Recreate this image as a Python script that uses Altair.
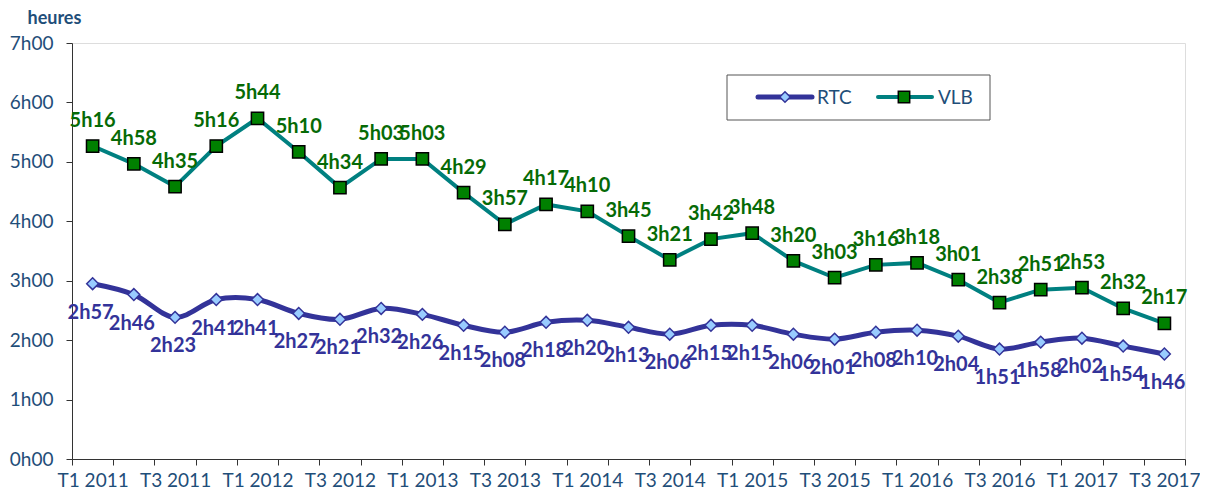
import altair as alt
import pandas as pd

# ---------------- data ----------------
quarters = [
    "T1 2011", "T2 2011", "T3 2011", "T4 2011",
    "T1 2012", "T2 2012", "T3 2012", "T4 2012",
    "T1 2013", "T2 2013", "T3 2013", "T4 2013",
    "T1 2014", "T2 2014", "T3 2014", "T4 2014",
    "T1 2015", "T2 2015", "T3 2015", "T4 2015",
    "T1 2016", "T2 2016", "T3 2016", "T4 2016",
    "T1 2017", "T2 2017", "T3 2017",
]
rtc_labels = [
    "2h57", "2h46", "2h23", "2h41", "2h41", "2h27", "2h21", "2h32", "2h26",
    "2h15", "2h08", "2h18", "2h20", "2h13", "2h06", "2h15", "2h15", "2h06",
    "2h01", "2h08", "2h10", "2h04", "1h51", "1h58", "2h02", "1h54", "1h46",
]
vlb_labels = [
    "5h16", "4h58", "4h35", "5h16", "5h44", "5h10", "4h34", "5h03", "5h03",
    "4h29", "3h57", "4h17", "4h10", "3h45", "3h21", "3h42", "3h48", "3h20",
    "3h03", "3h16", "3h18", "3h01", "2h38", "2h51", "2h53", "2h32", "2h17",
]
series_names = ["RTC", "VLB"]
y_ticks = [0, 1, 2, 3, 4, 5, 6, 7]


def to_hours(s):
    h, m = s.split("h")
    return int(h) + int(m) / 60.0


rows = []
for name, labs in zip(series_names, [rtc_labels, vlb_labels]):
    for q, lab in zip(quarters, labs):
        rows.append({"trimestre": q, "serie": name, "heures": to_hours(lab), "label": lab})
df = pd.DataFrame(rows)

# ---------------- style ----------------
FONT = "Lato"
AXIS_COLOR = "#1F4E79"
RTC_LINE = "#333399"
RTC_FILL = "#99CCFF"
VLB_LINE = "#008080"
VLB_FILL = "#008000"
VLB_TEXT = "#066A06"
W, H = 1113, 416

x_enc = alt.X(
    "trimestre:N",
    sort=quarters,
    bandPosition=0.5,
    scale=alt.Scale(type="band", paddingInner=0, paddingOuter=0),
    axis=alt.Axis(
        title=None,
        tickBand="extent",
        labelAngle=0,
        labelOverlap=False,
        labelExpr="(substring(datum.label,0,2)=='T1' || substring(datum.label,0,2)=='T3') ? datum.label : ''",
        labelFont=FONT,
        labelFontSize=19,
        labelColor=AXIS_COLOR,
        labelPadding=6,
        tickSize=6,
        tickColor="#333",
        domainColor="#333",
        grid=False,
    ),
)
y_enc = alt.Y(
    "heures:Q",
    scale=alt.Scale(domain=[0, 7], nice=False, zero=True),
    axis=alt.Axis(
        values=y_ticks,
        labelExpr="datum.value + 'h00'",
        labelFont=FONT,
        labelFontSize=19,
        labelColor=AXIS_COLOR,
        labelPadding=13,
        tickSize=6,
        tickColor="#333",
        domainColor="#333",
        grid=False,
        title="heures",
        titleAngle=0,
        titleAlign="left",
        titleBaseline="alphabetic",
        titleX=-45,
        titleY=-20,
        titleFont=FONT,
        titleFontSize=18,
        titleFontWeight="bold",
        titleColor=AXIS_COLOR,
    ),
)

base = alt.Chart(df).encode(x=x_enc, y=y_enc)
rtc = base.transform_filter(alt.datum.serie == "RTC")
vlb = base.transform_filter(alt.datum.serie == "VLB")

vlb_line = vlb.mark_line(color=VLB_LINE, strokeWidth=4)
vlb_pts = vlb.mark_point(shape="square", filled=True, fill=VLB_FILL, stroke="#000000",
                         strokeWidth=1.5, size=150, opacity=1)
vlb_txt = vlb.mark_text(dy=-25, font=FONT, fontSize=20, fontWeight="bold",
                        color=VLB_TEXT).encode(text="label:N")

rtc_line = rtc.mark_line(color=RTC_LINE, strokeWidth=5, interpolate="cardinal")
rtc_pts = rtc.mark_point(shape="diamond", filled=True, fill=RTC_FILL, stroke=RTC_LINE,
                         strokeWidth=1.5, size=140, opacity=1)
rtc_txt = rtc.mark_text(dy=29, dx=-2, font=FONT, fontSize=20, fontWeight="bold",
                        color=RTC_LINE).encode(text="label:N")

# ---------------- legend (drawn manually) ----------------
one = pd.DataFrame({"k": [0]})
leg = alt.Chart(one)
leg_box = leg.mark_rect(fill="white", stroke="#555555", strokeWidth=1).encode(
    x=alt.value(655), x2=alt.value(918), y=alt.value(32), y2=alt.value(77))
leg_rtc_line = leg.mark_rule(color=RTC_LINE, strokeWidth=5, strokeCap="round").encode(
    x=alt.value(686), x2=alt.value(740), y=alt.value(54))
leg_rtc_pt = leg.mark_point(shape="diamond", filled=True, fill=RTC_FILL, stroke=RTC_LINE,
                            strokeWidth=1.5, size=110, opacity=1).encode(
    x=alt.value(713), y=alt.value(54))
leg_rtc_txt = leg.mark_text(align="left", baseline="middle", font=FONT, fontSize=19,
                            color=AXIS_COLOR).encode(
    x=alt.value(745), y=alt.value(55), text=alt.value(series_names[0]))
leg_vlb_line = leg.mark_rule(color=VLB_LINE, strokeWidth=4, strokeCap="round").encode(
    x=alt.value(806), x2=alt.value(860), y=alt.value(54))
leg_vlb_pt = leg.mark_point(shape="square", filled=True, fill=VLB_FILL, stroke="#000000",
                            strokeWidth=1.5, size=130, opacity=1).encode(
    x=alt.value(832), y=alt.value(54))
leg_vlb_txt = leg.mark_text(align="left", baseline="middle", font=FONT, fontSize=19,
                            color=AXIS_COLOR).encode(
    x=alt.value(866), y=alt.value(55), text=alt.value(series_names[1]))

chart = alt.layer(
    vlb_line, vlb_pts, rtc_line, rtc_pts, vlb_txt, rtc_txt,
    leg_box, leg_rtc_line, leg_rtc_pt, leg_rtc_txt, leg_vlb_line, leg_vlb_pt, leg_vlb_txt,
).properties(
    width=W,
    height=H,
    padding={"left": 64, "top": 35, "right": 15, "bottom": 33},
    autosize=alt.AutoSizeParams(type="none"),
).configure_view(stroke=None).configure(background="white")

chart.save("out.html", embed_options={"renderer": "svg", "actions": False})
